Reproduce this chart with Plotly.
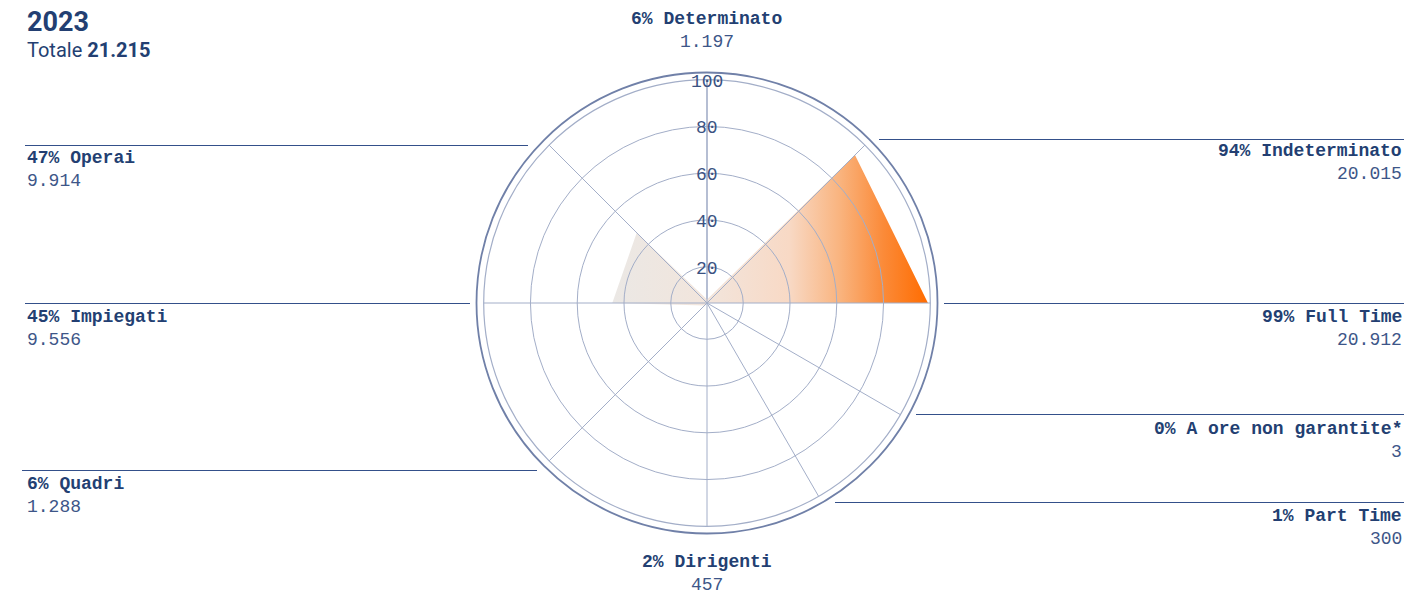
import math
import plotly.graph_objects as go

# ---- data -------------------------------------------------------------
year = "2023"
total = 21215
categories = ["Determinato", "Indeterminato", "Full Time", "A ore non garantite*",
              "Part Time", "Dirigenti", "Quadri", "Impiegati", "Operai"]
counts = [1197, 20015, 20912, 3, 300, 457, 1288, 9556, 9914]
percent = [6, 94, 99, 0, 1, 2, 6, 45, 47]
angles = [90, 45, 0, 330, 300, 270, 225, 180, 135]
radial_ticks = [20, 40, 60, 80, 100]

# ---- style ------------------------------------------------------------
W, H = 1408, 595
NAVY = "#233f72"
NUM = "#3d5688"
GRID = "#a3aec8"
MONO = "Liberation Mono, DejaVu Sans Mono, monospace"
SANS = "Roboto, Inter, sans-serif"
R_MIN, R_MAX = 4.5, 100          # radial axis range
CX, CY, RPX = 707, 303, 223.3    # centre and outer radius in pixels

def fx(x):
    return x / W

def fy(y):
    return 1 - y / H

dom_x = [fx(CX - RPX), fx(CX + RPX)]
dom_y = [fy(CY + RPX), fy(CY - RPX)]
span = R_MAX - R_MIN

fig = go.Figure()

# gradient-filled radar polygon on a cartesian overlay sharing the polar frame
theta_closed = angles + angles[:1]
r_closed = percent + percent[:1]
xs = [max(r - R_MIN, 0) * math.cos(math.radians(t)) for r, t in zip(r_closed, theta_closed)]
ys = [max(r - R_MIN, 0) * math.sin(math.radians(t)) for r, t in zip(r_closed, theta_closed)]
fig.add_trace(go.Scatter(
    x=xs, y=ys, mode="lines", fill="toself",
    line=dict(width=0, color="rgba(0,0,0,0)"),
    fillgradient=dict(
        type="horizontal",
        colorscale=[[0.0, "#ebe8e5"], [0.3, "#f2e5dc"], [0.56, "#f8d9c5"],
                    [0.72, "#f9b47f"], [0.86, "#fb8a38"], [1.0, "#ff6c00"]],
    ),
    hoverinfo="skip", showlegend=False, xaxis="x", yaxis="y",
))

# polar frame (grid, spokes) with the same values for hover
fig.add_trace(go.Scatterpolar(
    r=percent, theta=angles, mode="markers",
    marker=dict(size=8, color="rgba(0,0,0,0)"),
    text=categories, customdata=counts,
    hovertemplate="%{text}: %{r}% (%{customdata})<extra></extra>",
    showlegend=False,
))

fig.update_layout(
    width=W, height=H,
    margin=dict(l=0, r=0, t=0, b=0),
    paper_bgcolor="white", plot_bgcolor="rgba(0,0,0,0)",
    xaxis=dict(domain=dom_x, range=[-span, span], visible=False, fixedrange=True),
    yaxis=dict(domain=dom_y, range=[-span, span], visible=False, fixedrange=True),
    polar=dict(
        domain=dict(x=dom_x, y=dom_y),
        bgcolor="rgba(0,0,0,0)",
        radialaxis=dict(
            range=[R_MIN, R_MAX], tickvals=radial_ticks, showticklabels=False,
            ticks="", showline=False, gridcolor=GRID, gridwidth=1.2, angle=90,
        ),
        angularaxis=dict(
            thetaunit="degrees", rotation=0, direction="counterclockwise",
            tickmode="array", tickvals=sorted(angles), showticklabels=False, ticks="",
            gridcolor=GRID, gridwidth=1.2, showline=True, linecolor=GRID, linewidth=1.2,
        ),
    ),
    hovermode="closest",
)

# vertical spoke under the radial tick labels
fig.add_shape(type="line", xref="paper", yref="paper",
              x0=fx(CX), x1=fx(CX), y0=fy(CY), y1=fy(CY - RPX),
              line=dict(color=GRID, width=1.2), layer="below")

# outer frame ring
ring = 230.5
fig.add_shape(type="circle", xref="paper", yref="paper",
              x0=fx(CX - ring), x1=fx(CX + ring), y0=fy(CY + ring), y1=fy(CY - ring),
              line=dict(color="#7080a8", width=1.8), layer="above")

# radial tick labels centred on the vertical spoke
for v in radial_ticks:
    fig.add_annotation(x=0, y=v - R_MIN, xref="x", yref="y", text=str(v), showarrow=False,
                       font=dict(family=MONO, size=18, color="#3b5282"),
                       xanchor="center", yanchor="middle", yshift=-2)

# label placement: (x, y of bold line, align, connector (y, x0, x1))
placement = {
    "Determinato": (707, 19, "center", None),
    "Indeterminato": (1404, 151, "right", (139.5, 879, 1404)),
    "Full Time": (1404, 317, "right", (303.5, 944, 1404)),
    "A ore non garantite*": (1404, 429, "right", (414.5, 916, 1404)),
    "Part Time": (1404, 516, "right", (502.5, 835, 1404)),
    "Dirigenti": (707, 562, "center", None),
    "Quadri": (25, 484, "left", (470.5, 22, 537)),
    "Impiegati": (25, 317, "left", (303.5, 25, 470)),
    "Operai": (25, 158, "left", (145.5, 25, 528)),
}

for name, pct, n in zip(categories, percent, counts):
    x, y, align, conn = placement[name]
    fig.add_annotation(x=fx(x), y=fy(y), xref="paper", yref="paper",
                       text=f"<b>{pct}% {name}</b>", showarrow=False,
                       font=dict(family=MONO, size=18, color=NAVY),
                       xanchor=align, yanchor="middle")
    fig.add_annotation(x=fx(x), y=fy(y + 23), xref="paper", yref="paper",
                       text=f"{n:,}".replace(",", "."), showarrow=False,
                       font=dict(family=MONO, size=18, color=NUM),
                       xanchor=align, yanchor="middle")
    if conn:
        cy, x0, x1 = conn
        fig.add_shape(type="line", xref="paper", yref="paper",
                      x0=fx(x0), x1=fx(x1), y0=fy(cy), y1=fy(cy),
                      line=dict(color="#34508a", width=1.2))

# heading
fig.add_annotation(x=fx(25), y=fy(22), xref="paper", yref="paper",
                   text=f"<b>{year}</b>", showarrow=False,
                   font=dict(family=SANS, size=27, color=NAVY),
                   xanchor="left", yanchor="middle")
fig.add_annotation(x=fx(25), y=fy(50), xref="paper", yref="paper",
                   text=f"Totale <b>{total:,}</b>".replace(",", "."), showarrow=False,
                   font=dict(family=SANS, size=20, color=NAVY),
                   xanchor="left", yanchor="middle")

fig.write_html("out.html")
